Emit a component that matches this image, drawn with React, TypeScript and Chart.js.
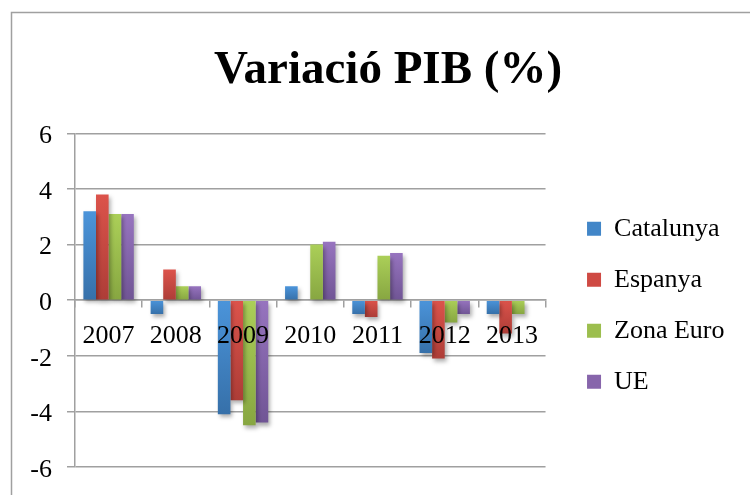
import React, { useEffect, useRef } from "react";
import { Chart, registerables } from "chart.js";

Chart.register(...registerables);

const categories = ["2007", "2008", "2009", "2010", "2011", "2012", "2013"];
const seriesNames = ["Catalunya", "Espanya", "Zona Euro", "UE"];
const catalunya = [3.2, -0.5, -4.1, 0.5, -0.5, -1.9, -0.5];
const espanya = [3.8, 1.1, -3.6, 0.0, -0.6, -2.1, -1.2];
const zonaEuro = [3.1, 0.5, -4.5, 2.0, 1.6, -0.8, -0.5];
const ue = [3.1, 0.5, -4.4, 2.1, 1.7, -0.5, 0.0];
const yMin = -6;
const yMax = 6;
const yStep = 2;

const topColors = ["#4b94da", "#dc534b", "#abcf58", "#9774bf"];
const bottomColors = ["#3670a9", "#ad3d37", "#87a641", "#705595"];
const solidColors = ["#4286c8", "#cf4a43", "#9cbe4e", "#8765ab"];

const FONT = "'Liberation Serif', 'Times New Roman', serif";
const GRID = "#a0a0a0";

function gradientFor(i: number) {
  return (ctx: any) => {
    const chart = ctx.chart;
    const ys = chart.scales && chart.scales.y;
    if (!ys || ctx.type !== "data") return solidColors[i];
    const v = ctx.raw as number;
    const p1 = ys.getPixelForValue(v);
    const p0 = ys.getPixelForValue(0);
    const top = Math.min(p0, p1);
    const bot = Math.max(p0, p1);
    if (!isFinite(top) || !isFinite(bot) || bot - top < 1) return solidColors[i];
    const g = chart.ctx.createLinearGradient(0, top, 0, bot);
    g.addColorStop(0, topColors[i]);
    g.addColorStop(1, bottomColors[i]);
    return g;
  };
}

const shadowPlugin = {
  id: "barShadow",
  beforeDatasetsDraw(chart: any) {
    const c = chart.ctx;
    c.save();
    c.shadowColor = "rgba(0,0,0,0.32)";
    c.shadowBlur = 4;
    c.shadowOffsetX = 2;
    c.shadowOffsetY = 3;
  },
  afterDatasetsDraw(chart: any) {
    chart.ctx.restore();
  },
};

// nudges the title and legend boxes after Chart.js has laid them out
const nudgePlugin = {
  id: "nudge",
  afterLayout(chart: any) {
    const t = chart.titleBlock;
    if (t) {
      t.left += 15;
      t.right += 15;
    }
    const lg = chart.legend;
    if (lg) {
      lg.left += 16.5;
      lg.right += 16.5;
      lg.top += 5;
      lg.bottom += 5;
    }
  },
};

const framePlugin = {
  id: "frame",
  afterDraw(chart: any) {
    const c = chart.ctx;
    c.save();
    c.strokeStyle = GRID;
    c.lineWidth = 1.5;
    c.beginPath();
    c.moveTo(11.5, chart.height);
    c.lineTo(11.5, 12.5);
    c.lineTo(chart.width, 12.5);
    c.stroke();
    c.restore();
  },
};

export default function App() {
  const ref = useRef<HTMLCanvasElement | null>(null);

  useEffect(() => {
    if (!ref.current) return;
    const values = [catalunya, espanya, zonaEuro, ue];
    const chart = new Chart(ref.current, {
      type: "bar",
      data: {
        labels: categories,
        datasets: seriesNames.map((name, i) => ({
          label: name,
          data: values[i],
          backgroundColor: gradientFor(i),
          borderWidth: 0,
          categoryPercentage: 0.75,
          barPercentage: 1.0,
        })),
      },
      options: {
        animation: false,
        responsive: false,
        maintainAspectRatio: false,
        layout: { padding: { left: 28, right: 32, top: 12, bottom: 28 } },
        plugins: {
          title: {
            display: true,
            text: "Variació PIB (%)",
            color: "#000",
            font: { family: FONT, size: 47, weight: "bold" },
            padding: { top: 31, bottom: 34 },
          },
          legend: {
            position: "right",
            fullSize: false,
            labels: {
              color: "#000",
              font: { family: FONT, size: 26 },
              boxWidth: 14,
              boxHeight: 14,
              padding: 25,
              generateLabels: (ch: any) =>
                ch.data.datasets.map((ds: any, i: number) => ({
                  text: ds.label,
                  fillStyle: solidColors[i],
                  strokeStyle: "rgba(0,0,0,0)",
                  lineWidth: 0,
                  hidden: !ch.isDatasetVisible(i),
                  datasetIndex: i,
                })),
            },
          },
          tooltip: { enabled: false },
        },
        scales: {
          x: {
            type: "category",
            position: { y: 0 } as any,
            offset: true,
            grid: {
              display: true,
              drawOnChartArea: false,
              drawTicks: true,
              tickLength: 7,
              color: GRID,
              lineWidth: 1.5,
              offset: true,
            },
            border: { display: true, color: GRID, width: 1.5 },
            ticks: {
              z: 1,
              color: "#000",
              font: { family: FONT, size: 26 },
              padding: 13,
              maxRotation: 0,
              autoSkip: false,
            },
          },
          y: {
            type: "linear",
            position: "left",
            min: yMin,
            max: yMax,
            afterFit: (s: any) => {
              s.width = 47;
              s.paddingTop = 16;
              s.paddingBottom = 16;
            },
            ticks: {
              stepSize: yStep,
              color: "#000",
              font: { family: FONT, size: 26 },
              padding: 15,
              labelOffset: 3,
            },
            grid: {
              color: GRID,
              lineWidth: 1.5,
              tickLength: 8,
              drawTicks: true,
            },
            border: { display: true, color: GRID, width: 1.5 },
          },
        },
      } as any,
      plugins: [shadowPlugin, nudgePlugin, framePlugin],
    });
    return () => chart.destroy();
  }, []);

  return (
    <div style={{ position: "fixed", left: 0, top: 0, width: 750, height: 495, background: "#fff" }}>
      <canvas ref={ref} width={750} height={495} style={{ display: "block", width: 750, height: 495 }} />
    </div>
  );
}
